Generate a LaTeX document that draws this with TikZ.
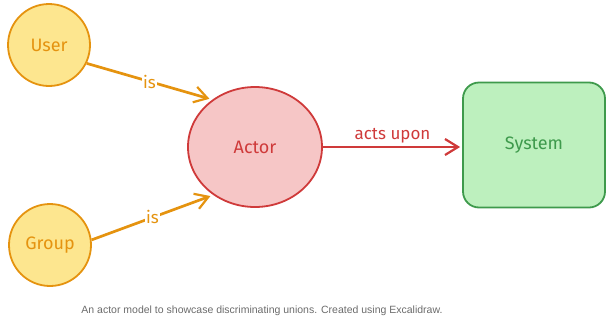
\documentclass[tikz,border=0pt]{standalone}
\usepackage{fontspec}
\setmainfont{Liberation Sans}
\newfontfamily\handfont{Fira Sans}
\usetikzlibrary{arrows.meta,shapes.geometric}

\definecolor{userline}{HTML}{E5930F}
\definecolor{userfill}{HTML}{FDE68F}
\definecolor{actorline}{HTML}{CF3A3A}
\definecolor{actorfill}{HTML}{F6C6C6}
\definecolor{sysline}{HTML}{3E9A4C}
\definecolor{sysfill}{HTML}{BDF0BE}
\definecolor{captext}{HTML}{6B6B6B}

\tikzset{
  sketch/.style={font=\handfont\fontsize{18}{20}\selectfont, line width=1.8pt},
  yellowball/.style={sketch, circle, minimum size=82pt, inner sep=0pt, draw=userline, fill=userfill, text=userline},
  redball/.style={sketch, ellipse, minimum width=134pt, minimum height=120pt, inner sep=0pt, draw=actorline, fill=actorfill, text=actorline},
  greenbox/.style={sketch, rectangle, rounded corners=16pt, minimum width=142pt, minimum height=125pt, draw=sysline, fill=sysfill, text=sysline},
  isarrow/.style={->, line width=2.7pt, draw=userline, shorten >=3pt},
  actsarrow/.style={->, line width=2.8pt, draw=actorline, shorten >=2pt},
  edgelabel/.style={font=\handfont\fontsize{17}{19}\selectfont, inner sep=1pt},
}

\begin{document}
\begin{tikzpicture}[x=1pt, y=-1pt, >={Straight Barb[length=13pt,width=16pt,line width=2.2pt]}]
\useasboundingbox (0,0) rectangle (612,319);

% the three parties
\node[yellowball] (user) at (49,45) {User};
\node[yellowball] (group) at (50,245) {Group};
\node[redball] (actor) at (255,147) {Actor};
\node[greenbox] (system) at (534,145) {System};

% relations
\draw[isarrow] (user.-26) -- (actor.132)
  node[midway, edgelabel, fill=white, text=userline] {is};
\draw[isarrow] (group.7) -- (actor.229)
  node[midway, edgelabel, fill=white, text=userline] {is};
\draw[actsarrow] (actor.east) -- (actor.east -| system.west)
  node[midway, above=1pt, edgelabel, text=actorline] {acts upon};

\node[font=\fontsize{10.5}{12}\selectfont, text=captext] (caption) at (262,311)
  {An actor model to showcase discriminating unions. Created using Excalidraw.};
\end{tikzpicture}
\end{document}
